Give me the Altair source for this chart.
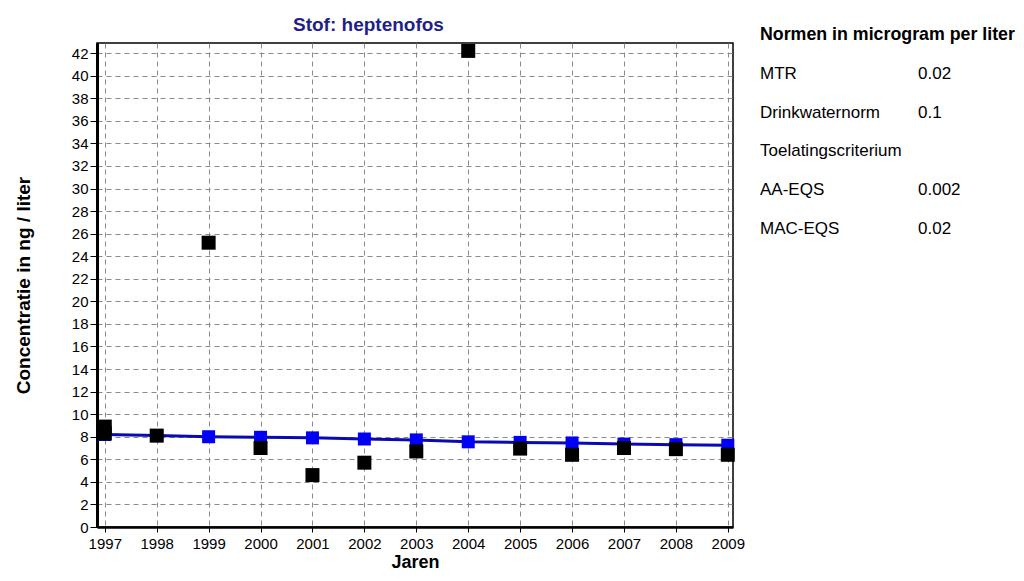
import altair as alt
import pandas as pd

# ---- data ----
meas_years = [1997, 1997, 1998, 1999, 2000, 2001, 2002, 2003, 2004, 2005, 2006, 2007, 2008, 2009]
meas_values = [8.9, 8.3, 8.1, 25.2, 7.0, 4.6, 5.7, 6.7, 42.2, 6.95, 6.4, 7.0, 6.9, 6.4]

trend_years = [1997, 1998, 1999, 2000, 2001, 2002, 2003, 2004, 2005, 2006, 2007, 2008, 2009]
trend_values = [8.2, 8.1, 8.0, 7.95, 7.9, 7.8, 7.72, 7.55, 7.5, 7.45, 7.35, 7.3, 7.25]

norm_labels = ["MTR", "Drinkwaternorm", "Toelatingscriterium", "AA-EQS", "MAC-EQS"]
norm_values = ["0.02", "0.1", "", "0.002", "0.02"]
norm_title = "Normen in microgram per liter"
chart_title = "Stof: heptenofos"

year_ticks = list(range(1997, 2010))
y_ticks = list(range(0, 44, 2))

meas = pd.DataFrame({"jaar": meas_years, "conc": meas_values})
trend = pd.DataFrame({"jaar": trend_years, "conc": trend_values})
norms = pd.DataFrame({"label": norm_labels, "value": norm_values,
                      "row": list(range(1, len(norm_labels) + 1))})
norm_head = pd.DataFrame({"label": [norm_title], "row": [0]})
title_df = pd.DataFrame({"t": [chart_title]})

FONT = "Liberation Sans"
xscale = alt.Scale(domain=[1996.85, 2009.1], nice=False, zero=False)
yscale = alt.Scale(domain=[0, 42.9], nice=False, zero=True)

xaxis = alt.Axis(values=year_ticks, format="d", title="Jaren", grid=True,
                 gridDash=[5, 4], gridColor="#8a8a8a", gridWidth=1,
                 domainColor="#000", domainWidth=2.5, tickColor="#000",
                 tickSize=5, labelPadding=4, labelFontSize=15, labelFont=FONT,
                 labelColor="#000", titleFont=FONT, titleFontSize=18,
                 titleFontWeight="bold", titleColor="#000", titlePadding=2,
                 labelFlush=False)
yaxis = alt.Axis(values=y_ticks, title="Concentratie in ng / liter", grid=True,
                 gridDash=[5, 4], gridColor="#8a8a8a", gridWidth=1,
                 domainColor="#000", domainWidth=3, tickColor="#000",
                 tickSize=7, labelPadding=2, labelFontSize=15, labelFont=FONT,
                 labelColor="#000", titleFont=FONT, titleFontSize=19,
                 titleFontWeight="bold", titleColor="#000", titlePadding=38,
                 labelFlush=False)

X = alt.X("jaar:Q", scale=xscale, axis=xaxis)
Y = alt.Y("conc:Q", scale=yscale, axis=yaxis)

trend_line = alt.Chart(trend).mark_line(color="#0a0ab4", strokeWidth=3).encode(x=X, y=Y)
trend_pts = alt.Chart(trend).mark_point(shape="square", filled=True, opacity=1,
                                        color="#0000f5", size=169).encode(x=X, y=Y)
meas_pts = alt.Chart(meas).mark_point(shape="square", filled=True, opacity=1,
                                      color="#000000", size=196).encode(x=X, y=Y)

main = alt.layer(trend_line, trend_pts, meas_pts)

rowscale = alt.Scale(domain=[0.213, 12.656], reverse=True, nice=False, zero=False)
head = alt.Chart(norm_head).mark_text(align="left", baseline="middle", font=FONT,
                                      fontSize=17.8, fontWeight="bold",
                                      color="#000").encode(
    x=alt.value(663),
    y=alt.Y("row:Q", scale=rowscale, axis=None),
    text="label:N",
)
lab = alt.Chart(norms).mark_text(align="left", baseline="middle", font=FONT,
                                 fontSize=17, color="#000").encode(
    x=alt.value(663),
    y=alt.Y("row:Q", scale=rowscale, axis=None),
    text="label:N",
)
val = alt.Chart(norms).mark_text(align="left", baseline="middle", font=FONT,
                                 fontSize=17, color="#000").encode(
    x=alt.value(821),
    y=alt.Y("row:Q", scale=rowscale, axis=None),
    text="value:N",
)
ttl = alt.Chart(title_df).mark_text(align="left", baseline="alphabetic", font=FONT,
                                    fontSize=19, fontWeight="bold",
                                    color="#1f1f8a").encode(
    x=alt.value(196), y=alt.value(-11.6), text="t:N")

legend = alt.layer(head, lab, val, ttl)

chart = alt.layer(main, legend).resolve_scale(y="independent").properties(
    width=636, height=484,
    autosize=alt.AutoSizeParams(type="none"),
    padding={"left": 89, "top": 35, "right": 283, "bottom": 46},
    background="#ffffff",
).configure_view(stroke="#000", strokeWidth=1.5)

chart.save("out.html", embed_options={"renderer": "svg", "actions": False})
